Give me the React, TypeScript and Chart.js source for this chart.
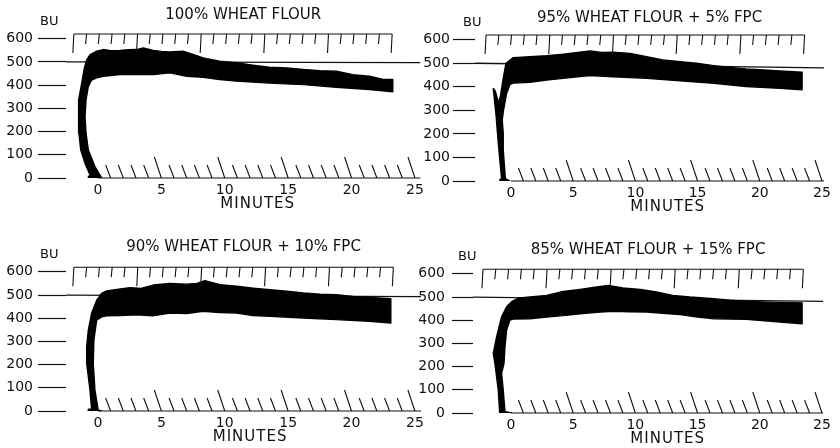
import React, { useEffect, useRef } from 'react';
import { Chart, registerables } from 'chart.js';

Chart.register(...registerables);

// ---------- data ----------
const yTickValues = [0, 100, 200, 300, 400, 500, 600];
const xTickValues = [0, 5, 10, 15, 20, 25];
const hatchMinutes = [1, 2, 3, 4, 5, 6, 7, 8, 9, 10, 11, 12, 13, 14, 15, 16, 17, 18, 19, 20, 21, 22, 23, 24, 25];

const titles = [
  '100% WHEAT FLOUR',
  '95% WHEAT FLOUR + 5% FPC',
  '90% WHEAT FLOUR + 10% FPC',
  '85% WHEAT FLOUR + 15% FPC',
];

// band envelopes: [minutes, BU]; "upper" runs up the left side of the rise then along the top,
// "lower" runs up the right side of the rise then along the bottom
const wf100Upper: [number, number][] = [
  [-0.75, 0], [-0.75, 8], [-0.58, 8], [-1.02, 63], [-1.36, 121], [-1.5, 193], [-1.55, 264], [-1.5, 336],
  [-1.28, 408], [-1.1, 466], [-0.89, 509], [-0.63, 530], [-0.1, 546], [0.42, 553], [1.0, 548], [1.73, 549],
  [2.4, 552], [3.05, 553], [3.57, 560], [4.36, 549], [5.0, 545], [5.67, 543], [6.7, 546], [7.5, 532],
  [8.3, 517], [9.6, 503], [10.9, 496], [12.2, 486], [13.5, 477], [14.9, 474], [16.2, 467], [17.5, 462],
  [18.8, 460], [20.1, 445], [21.4, 438], [22.5, 424], [23.25, 424],
];
const wf100Lower: [number, number][] = [
  [-0.75, 0], [0.3, 0], [-0.24, 49], [-0.76, 121], [-0.94, 193], [-1.02, 264], [-0.94, 336], [-0.76, 394],
  [-0.5, 422], [-0.1, 431], [0.42, 438], [1.73, 445], [3.05, 445], [4.36, 445], [5.67, 453], [7.0, 438],
  [8.3, 434], [9.6, 424], [10.9, 417], [13.5, 409], [16.2, 402], [18.8, 391], [21.4, 381], [23.25, 371],
];

const wf95Upper: [number, number][] = [
  [-0.88, 0], [-0.88, 8], [-0.75, 8], [-1.0, 150], [-1.2, 280], [-1.42, 393], [-1.25, 380], [-1.0, 330],
  [-0.85, 360], [-0.6, 442], [-0.4, 499], [-0.22, 507], [0.19, 524], [1.53, 528], [2.87, 532], [4.2, 538],
  [5.55, 547], [6.35, 552], [7.3, 546], [8.2, 547], [9.57, 542], [10.9, 528], [12.2, 514], [13.6, 507],
  [14.9, 500], [16.3, 490], [17.6, 482], [18.9, 476], [20.3, 472], [21.6, 467], [23.4, 462],
];
const wf95Lower: [number, number][] = [
  [-0.88, 0], [-0.08, 0], [-0.45, 10], [-0.62, 131], [-0.62, 203], [-0.7, 260], [-0.6, 300], [-0.35, 372],
  [-0.08, 410], [0.19, 416], [1.53, 419], [2.87, 429], [4.2, 436], [6.35, 448], [8.2, 443], [10.9, 436],
  [13.6, 425], [16.3, 415], [18.9, 401], [21.6, 394], [23.4, 387],
];

const wf90Upper: [number, number][] = [
  [-0.76, 0], [-0.76, 8], [-0.5, 8], [-0.63, 91], [-0.89, 206], [-0.89, 277], [-0.76, 349], [-0.5, 421],
  [-0.1, 478], [0.29, 507], [0.7, 518], [1.2, 522], [2.52, 532], [3.4, 528], [4.36, 543], [5.68, 550],
  [7.0, 547], [7.8, 550], [8.44, 562], [9.62, 545], [10.94, 538], [12.25, 530], [13.56, 523], [14.9, 516],
  [16.2, 509], [17.5, 504], [18.8, 501], [20.1, 494], [21.4, 490], [23.1, 484],
];
const wf90Lower: [number, number][] = [
  [-0.76, 0], [0.29, 0], [0.02, 4], [-0.24, 91], [-0.37, 206], [-0.32, 306], [-0.1, 392], [0.29, 406],
  [0.69, 410], [1.73, 412], [3.05, 415], [4.3, 410], [5.68, 422], [7.0, 420], [8.3, 430], [9.6, 425],
  [10.94, 422], [12.2, 412], [13.56, 408], [16.2, 401], [18.8, 394], [21.4, 387], [23.1, 379],
];

const wf85Upper: [number, number][] = [
  [-0.95, 0], [-0.95, 8], [-0.88, 8], [-1.02, 99], [-1.29, 214], [-1.42, 257], [-1.15, 329], [-0.75, 415],
  [-0.35, 458], [0.06, 480], [0.4, 490], [0.72, 496], [1.53, 500], [2.87, 507], [4.2, 524], [5.55, 533],
  [6.9, 543], [7.8, 550], [9.0, 539], [10.4, 533], [11.7, 522], [13.0, 507], [14.4, 500], [16.3, 493],
  [17.6, 486], [18.9, 481], [20.8, 478], [23.4, 475],
];
const wf85Lower: [number, number][] = [
  [-0.95, 0], [0.06, 0], [-0.48, 6], [-0.62, 99], [-0.75, 171], [-0.56, 214], [-0.48, 286], [-0.35, 358],
  [-0.08, 401], [0.19, 405], [1.53, 406], [2.87, 414], [4.2, 420], [5.55, 428], [6.9, 434], [8.2, 438],
  [9.5, 436], [10.9, 435], [12.2, 430], [13.6, 424], [15.0, 414], [16.3, 406], [18.9, 404], [21.6, 392],
  [23.4, 385],
];

// the 500 BU reference line, [left end, right end]
const ref100 = [500, 497];
const ref95 = [500, 480];
const ref90 = [500, 493];
const ref85 = [500, 481];

// ---------- layout / style ----------
const INK = '#111';
const FONT = '"DejaVu Sans", Verdana, sans-serif';

type Layout = {
  left: number; top: number; width: number; height: number;
  xMin: number; xMax: number; yMax: number;
  chartLeft: number; chartRight: number; axisHeight: number;
  titlePadTop: number; titlePadBottom: number;
  tickLen: number; tickPad: number;
  frameStart: number; frameEnd: number; minutesAt: number; buDx: number;
};

const layouts: Layout[] = [
  { left: 0, top: 0, width: 428, height: 224, xMin: -2.52, xMax: 25.43, yMax: 620, chartLeft: 66, chartRight: 421,
    axisHeight: 46, titlePadTop: 6, titlePadBottom: 10, tickLen: 28, tickPad: 5, frameStart: -1.9, frameEnd: 23.2, minutesAt: 12.6, buDx: 2 },
  { left: 410, top: 0, width: 430, height: 224, xMin: -2.89, xMax: 25.16, yMax: 620, chartLeft: 65, chartRight: 414,
    axisHeight: 43, titlePadTop: 9, titlePadBottom: 8, tickLen: 22, tickPad: 3, frameStart: -2.0, frameEnd: 23.6, minutesAt: 12.6, buDx: 10 },
  { left: 0, top: 224, width: 428, height: 224, xMin: -2.52, xMax: 25.48, yMax: 620, chartLeft: 66, chartRight: 421,
    axisHeight: 37, titlePadTop: 14, titlePadBottom: 11.2, tickLen: 28, tickPad: 5, frameStart: -1.9, frameEnd: 23.3, minutesAt: 12.0, buDx: 2 },
  { left: 410, top: 224, width: 430, height: 224, xMin: -3.05, xMax: 25.08, yMax: 620, chartLeft: 63, chartRight: 413,
    axisHeight: 35, titlePadTop: 17, titlePadBottom: 10.2, tickLen: 21, tickPad: 7, frameStart: -2.25, frameEnd: 23.5, minutesAt: 12.6, buDx: 6 },
];

const panels = [
  { title: titles[0], upper: wf100Upper, lower: wf100Lower, ref: ref100 },
  { title: titles[1], upper: wf95Upper, lower: wf95Lower, ref: ref95 },
  { title: titles[2], upper: wf90Upper, lower: wf90Lower, ref: ref90 },
  { title: titles[3], upper: wf85Upper, lower: wf85Lower, ref: ref85 },
];

function makePaperPlugin(L: Layout) {
  return {
    id: 'farinographPaper',
    afterDatasetsDraw(chart: any) {
      const { ctx, chartArea, scales } = chart;
      const x = scales.x;
      const y = scales.y;
      ctx.save();
      ctx.strokeStyle = INK;
      ctx.lineWidth = 1.1;
      // top recording-paper frame with hanging minute ticks
      const fy = chartArea.top;
      const fx0 = x.getPixelForValue(L.frameStart);
      const fx1 = x.getPixelForValue(L.frameEnd);
      ctx.beginPath();
      ctx.moveTo(fx0, fy);
      ctx.lineTo(fx1, fy);
      for (let i = 0; i <= 25; i++) {
        const px = fx0 + ((fx1 - fx0) * i) / 25;
        const len = i % 5 === 0 ? 19 : 10;
        ctx.moveTo(px, fy);
        ctx.lineTo(px - 1, fy + len);
      }
      ctx.stroke();
      // baseline with slanted minute hatching
      const by = y.getPixelForValue(0);
      ctx.beginPath();
      ctx.moveTo(x.getPixelForValue(0), by);
      ctx.lineTo(chartArea.right, by);
      for (const m of hatchMinutes) {
        const px = x.getPixelForValue(m);
        const long = m % 5 === 0;
        ctx.moveTo(px, by);
        ctx.lineTo(px - (long ? 7 : 5), by - (long ? 21 : 13));
      }
      ctx.stroke();
      // unit label
      ctx.fillStyle = INK;
      ctx.textBaseline = 'middle';
      ctx.textAlign = 'left';
      ctx.font = `13px ${FONT}`;
      ctx.fillText('BU', chartArea.left - L.tickLen + L.buDx, y.getPixelForValue(600) - 17);
      // x axis name
      ctx.textAlign = 'center';
      ctx.font = `15px ${FONT}`;
      try { (ctx as any).letterSpacing = '1px'; } catch (e) { /* ignore */ }
      ctx.fillText('MINUTES', x.getPixelForValue(L.minutesAt), by + 26);
      ctx.restore();
    },
  };
}

function Panel({ index }: { index: number }) {
  const ref = useRef<HTMLCanvasElement | null>(null);
  const L = layouts[index];
  const P = panels[index];

  useEffect(() => {
    if (!ref.current) return;
    const band = [
      ...P.upper.map(([x, y]) => ({ x, y })),
      ...P.lower.slice().reverse().map(([x, y]) => ({ x, y })),
    ];
    const refLine = [
      { x: L.xMin, y: P.ref[0] },
      { x: L.xMax, y: P.ref[1] },
    ];
    const chart = new Chart(ref.current, {
      type: 'line',
      data: {
        datasets: [
          {
            label: 'consistency',
            data: band,
            fill: 'shape',
            backgroundColor: '#000',
            borderColor: '#000',
            borderWidth: 1.4,
            borderJoinStyle: 'round',
            pointRadius: 0,
            tension: 0,
          },
          {
            label: '500 BU line',
            data: refLine,
            fill: false,
            borderColor: INK,
            borderWidth: 1.3,
            pointRadius: 0,
            tension: 0,
          },
        ],
      },
      options: {
        animation: false,
        responsive: false,
        devicePixelRatio: 1,
        events: [],
        layout: { padding: { left: 0, top: 0, bottom: 0, right: L.width - L.chartRight } },
        plugins: {
          legend: { display: false },
          tooltip: { enabled: false },
          title: {
            display: true,
            text: P.title,
            fullSize: false,
            color: INK,
            font: { family: FONT, size: 15, weight: 'normal' },
            padding: { top: L.titlePadTop, bottom: L.titlePadBottom },
          },
        },
        scales: {
          x: {
            type: 'linear',
            min: L.xMin,
            max: L.xMax,
            afterBuildTicks: (s: any) => { s.ticks = xTickValues.map((v) => ({ value: v })); },
            afterFit: (s: any) => { s.height = L.axisHeight; },
            grid: { display: false, drawTicks: false },
            border: { display: false },
            ticks: { padding: 4, color: INK, font: { family: FONT, size: 14 }, maxRotation: 0, autoSkip: false, callback: (v: any) => String(v) },
          },
          y: {
            type: 'linear',
            min: 0,
            max: L.yMax,
            afterBuildTicks: (s: any) => { s.ticks = yTickValues.map((v) => ({ value: v })); },
            afterFit: (s: any) => { s.width = L.chartLeft; },
            grid: { display: true, drawOnChartArea: false, drawTicks: true, tickLength: L.tickLen, tickColor: INK, tickWidth: 1.2 },
            border: { display: false },
            ticks: { padding: L.tickPad, color: INK, font: { family: FONT, size: 14 }, autoSkip: false },
          },
        },
      } as any,
      plugins: [makePaperPlugin(L)],
    });
    return () => chart.destroy();
  }, [index]);

  return (
    <canvas
      ref={ref}
      width={L.width}
      height={L.height}
      style={{ position: 'absolute', left: L.left, top: L.top, width: L.width, height: L.height }}
    />
  );
}

export default function App() {
  return (
    <div style={{ position: 'absolute', left: 0, top: 0, width: 840, height: 448, background: '#fff', overflow: 'hidden' }}>
      {[0, 1, 2, 3].map((i) => (
        <Panel key={i} index={i} />
      ))}
    </div>
  );
}
